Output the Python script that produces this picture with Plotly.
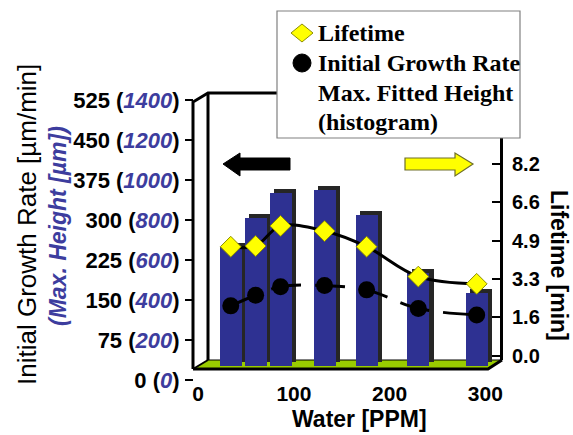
import plotly.graph_objects as go

W, H = 573, 435

# ---------------- data ----------------
water_ppm = [34, 60, 86, 132, 176, 230, 291]
lifetime_min = [4.66, 4.69, 5.55, 5.33, 4.66, 3.38, 3.07]
growth_rate = [139, 159, 175, 177, 169, 134, 122]          # µm/min
max_height_um = [595, 740, 865, 880, 755, 465, 365]         # µm (histogram)

rate_ticks = [0, 75, 150, 225, 300, 375, 450, 525]
height_ticks = [0, 200, 400, 600, 800, 1000, 1200, 1400]
life_ticks = [0, 1.64, 3.28, 4.92, 6.56, 8.2]
x_ticks = [0, 100, 200, 300]

legend_labels = ["Lifetime", "Initial Growth Rate", "Max. Fitted Height", "(histogram)"]

# ---------------- layout helpers (pixel -> paper) ----------------
def X(px):
    return px / W


def Y(py):
    return 1 - py / H


SANS = "Liberation Sans, Arial, sans-serif"
SERIF = "Liberation Serif, Times New Roman, serif"
BLUE_TXT = "#3D3D9E"
BAR_BLUE = "#2E3192"
BAR_SIDE = "#262626"
FLOOR = "#99CC00"

# x scale: px = 198.2 + 0.957 * value
x_px0, x_scale = 198.2, 0.957
x_range = [(193 - x_px0) / x_scale, (503 - x_px0) / x_scale]

bar_w = 22 / x_scale          # front face width in ppm units
depth_dx = 4.5 / x_scale      # 3D depth shift (ppm units)
h_scale = 0.2                 # px per µm
depth_dy = 4.5 / h_scale      # 3D depth shift (µm)

fig = go.Figure()

# 3D-looking bars: dark depth bar behind, blue front face (subplot xy, drawn first)
fig.add_trace(go.Bar(
    x=water_ppm, y=max_height_um, base=[depth_dy] * len(max_height_um),
    width=bar_w, offset=-bar_w / 2 + depth_dx,
    marker=dict(color=BAR_SIDE, line=dict(width=0)),
    xaxis="x", yaxis="y", showlegend=False, hoverinfo="skip"))
fig.add_trace(go.Bar(
    x=water_ppm, y=max_height_um,
    width=bar_w, offset=-bar_w / 2,
    marker=dict(color=BAR_BLUE, line=dict(width=0)),
    name="Max. Fitted Height (histogram)",
    xaxis="x", yaxis="y", showlegend=False))

# Initial growth rate (left axis) - dashed
fig.add_trace(go.Scatter(
    x=water_ppm, y=growth_rate, mode="lines+markers",
    line=dict(color="black", width=3, dash="30px,14px", shape="spline", smoothing=1),
    marker=dict(symbol="circle", size=17, color="black"),
    name="Initial Growth Rate", xaxis="x", yaxis="y2", showlegend=False))

# Lifetime (right axis) - solid
fig.add_trace(go.Scatter(
    x=water_ppm, y=lifetime_min, mode="lines+markers",
    line=dict(color="black", width=3, shape="spline", smoothing=1),
    marker=dict(symbol="diamond", size=16, color="#FFFF00",
                line=dict(color="#8C8C00", width=1)),
    name="Lifetime", xaxis="x", yaxis="y3", showlegend=False))

left_ticktext = [f"{r} (<i><span style='color:{BLUE_TXT}'>{h}</span></i>)"
                 for r, h in zip(rate_ticks, height_ticks)]

fig.update_layout(
    width=W, height=H,
    margin=dict(l=0, r=0, t=0, b=0, autoexpand=False),
    paper_bgcolor="white", plot_bgcolor="rgba(0,0,0,0)",
    bargap=0, barmode="overlay",
    xaxis=dict(domain=[X(193), X(503)], range=x_range, anchor="free", position=Y(369),
               tickvals=x_ticks, showgrid=False, zeroline=False, showline=False,
               ticks="", ticklabelstandoff=10, automargin=False,
               tickfont=dict(family=SANS, size=21, color="black", weight="bold")),
    yaxis=dict(domain=[Y(366), Y(93)], range=[0, (366 - 93) / h_scale],
               anchor="free", position=X(193), visible=False, automargin=False),
    yaxis2=dict(domain=[Y(380), Y(100)], range=[0, 525], anchor="free", position=X(193),
                tickvals=rate_ticks, ticktext=left_ticktext,
                showgrid=False, zeroline=False, showline=False,
                ticks="outside", ticklen=8, tickwidth=2, tickcolor="black",
                ticklabelstandoff=1, automargin=False,
                tickfont=dict(family=SANS, size=22, color="black", weight="bold")),
    yaxis3=dict(domain=[Y(360.2), Y(137.2)], range=[-0.2, 9.35], anchor="free",
                position=X(501), side="right",
                tickvals=life_ticks, tickformat=".1f",
                showgrid=False, zeroline=False, showline=True, linecolor="black",
                linewidth=3, ticks="inside", ticklen=8, tickwidth=2, tickcolor="black",
                ticklabelstandoff=5, automargin=False,
                tickfont=dict(family=SANS, size=20, color="black", weight="bold")),
)


def path(points, close=True):
    s = "M" + " L".join(f"{X(px):.5f},{Y(py):.5f}" for px, py in points)
    return s + (" Z" if close else "")


shapes = []
# back wall / side wall / floor (below traces)
shapes.append(dict(type="path", path=path([(208, 93), (501, 93), (501, 360), (208, 360)]),
                   xref="paper", yref="paper", fillcolor="white", line=dict(width=0), layer="below"))
shapes.append(dict(type="path", path=path([(193, 369), (208, 360), (502, 360), (488, 369)]),
                   xref="paper", yref="paper", fillcolor=FLOOR, line=dict(width=0), layer="below"))
for pts, wdt in [([(193, 369), (193, 102), (208, 93), (290, 93)], 3),
                 ([(208, 93), (208, 360)], 3),
                 ([(193, 369), (488, 369), (502, 360)], 3),
                 ([(193, 369), (208, 360)], 2),
                 ([(208, 360), (501, 360)], 1)]:
    shapes.append(dict(type="path", path=path(pts, close=False), xref="paper", yref="paper",
                       line=dict(color="black", width=wdt), layer="below"))

# big arrows
shapes.append(dict(type="path",
                   path=path([(223, 164), (240, 153), (240, 158), (290, 158), (290, 170),
                              (240, 170), (240, 176)]),
                   xref="paper", yref="paper", fillcolor="black", line=dict(color="black", width=1),
                   layer="above"))
shapes.append(dict(type="path",
                   path=path([(473, 164), (455, 153), (455, 158), (405, 158), (405, 170),
                              (455, 170), (455, 176)]),
                   xref="paper", yref="paper", fillcolor="#FFFF00",
                   line=dict(color="#6E6E2A", width=1.2), layer="above"))

# legend box and symbols
shapes.append(dict(type="rect", x0=X(277), x1=X(520), y0=Y(138), y1=Y(11),
                   xref="paper", yref="paper", fillcolor="white",
                   line=dict(color="#808080", width=1.2), layer="above"))
shapes.append(dict(type="path", path=path([(291, 33), (302, 24), (313, 33), (302, 42)]),
                   xref="paper", yref="paper", fillcolor="#FFFF00",
                   line=dict(color="#8C8C00", width=1), layer="above"))
shapes.append(dict(type="circle", x0=X(293), x1=X(311), y0=Y(72), y1=Y(54),
                   xref="paper", yref="paper", fillcolor="black",
                   line=dict(color="black", width=1), layer="above"))
fig.update_layout(shapes=shapes)

ann = []
for lbl, py in zip(legend_labels, [33, 63, 93, 122]):
    ann.append(dict(text=lbl, x=X(316), y=Y(py), xref="paper", yref="paper",
                    xanchor="left", yanchor="middle", showarrow=False,
                    font=dict(family=SERIF, size=24, color="black", weight="bold")))

ann.append(dict(text="Initial Growth Rate [µm/min]", x=X(27), y=Y(225), xref="paper", yref="paper",
                textangle=-90, showarrow=False, xanchor="center", yanchor="middle",
                font=dict(family=SANS, size=26, color="black")))
ann.append(dict(text="<i>(Max. Height [µm])</i>", x=X(58), y=Y(226), xref="paper", yref="paper",
                textangle=-90, showarrow=False, xanchor="center", yanchor="middle",
                font=dict(family=SANS, size=23, color=BLUE_TXT, weight="bold")))
ann.append(dict(text="Water [PPM]", x=X(359), y=Y(419), xref="paper", yref="paper",
                showarrow=False, xanchor="center", yanchor="middle",
                font=dict(family=SANS, size=23, color="black", weight="bold")))
ann.append(dict(text="Lifetime [min]", x=X(559), y=Y(265), xref="paper", yref="paper",
                textangle=90, showarrow=False, xanchor="center", yanchor="middle",
                font=dict(family=SANS, size=23, color="black", weight="bold")))
fig.update_layout(annotations=ann)

fig.write_html("out.html")
